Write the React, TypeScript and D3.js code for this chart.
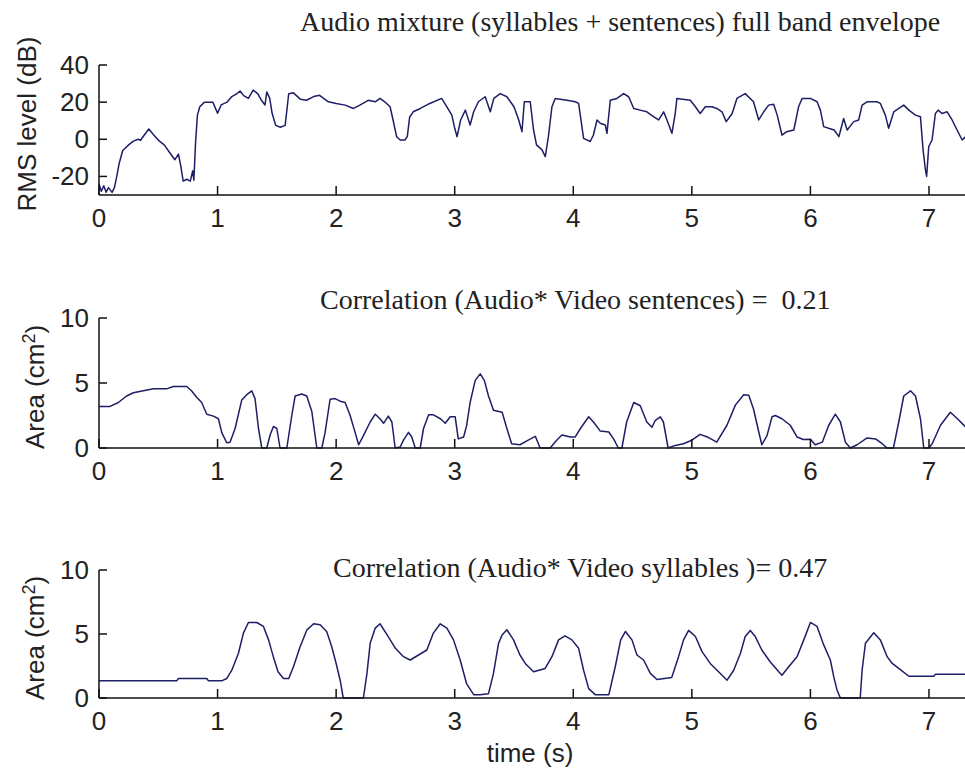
import React from "react";
import * as d3 from "d3";

// time (s), RMS level (dB)
const rmsEnvelope: [number, number][] = [
  [0, -24], [0.02, -28], [0.04, -25], [0.06, -28.5], [0.08, -26], [0.11, -28.6], [0.13, -26],
  [0.15, -20], [0.17, -13], [0.2, -6], [0.25, -3], [0.29, -1], [0.33, 0], [0.35, -0.5],
  [0.39, 3], [0.42, 5.5], [0.46, 2.5], [0.51, -1], [0.55, -3], [0.6, -7.5], [0.64, -11],
  [0.67, -8], [0.69, -14.5], [0.71, -22.5], [0.74, -21.5], [0.77, -22.5], [0.79, -17],
  [0.8, -22], [0.815, -1], [0.83, 13], [0.85, 17.5], [0.89, 20], [0.96, 20], [1.0, 14],
  [1.03, 18.5], [1.08, 20], [1.12, 23], [1.16, 24.5], [1.19, 26], [1.22, 23.5], [1.26, 22],
  [1.3, 26.5], [1.34, 24.5], [1.37, 21], [1.4, 18.5], [1.415, 25.5], [1.44, 22], [1.46, 14],
  [1.49, 7.5], [1.53, 6.5], [1.57, 7.5], [1.6, 24.5], [1.64, 25], [1.7, 21.5], [1.75, 21],
  [1.81, 23], [1.86, 23.7], [1.935, 20.2], [2.0, 19.3], [2.076, 18.4], [2.146, 16.6],
  [2.2, 18.4], [2.27, 21], [2.33, 20.2], [2.37, 22], [2.41, 20.2], [2.455, 17.5], [2.48, 10.4],
  [2.51, 1.4], [2.54, -0.4], [2.58, -0.4], [2.6, 1.4], [2.62, 12], [2.65, 14.8], [2.71, 16.6],
  [2.79, 19.3], [2.89, 22], [2.934, 17.5], [2.976, 13], [3.0, 5.9], [3.02, 1.4], [3.05, 10.4],
  [3.09, 15.7], [3.13, 7.7], [3.16, 14.8], [3.2, 20.2], [3.257, 22.9], [3.3, 14.8], [3.33, 22],
  [3.384, 24.6], [3.44, 22.9], [3.5, 17.5], [3.54, 10.4], [3.567, 4.1], [3.587, 20.2],
  [3.637, 20.2], [3.665, 5], [3.69, -3], [3.736, -5.7], [3.764, -9.3], [3.79, 1.4], [3.82, 17.5],
  [3.848, 22], [3.947, 21], [4.017, 20.2], [4.045, 19.3], [4.087, 0.5], [4.143, -1.2],
  [4.17, 2.3], [4.2, 10.4], [4.228, 8.6], [4.27, 7.7], [4.284, 3.2], [4.312, 21], [4.368, 22],
  [4.425, 24.6], [4.467, 22.9], [4.51, 16.6], [4.565, 15.7], [4.62, 14.8], [4.68, 12.1],
  [4.72, 10.4], [4.762, 14.8], [4.79, 10.4], [4.832, 3.2], [4.86, 13.9], [4.874, 22],
  [4.987, 21], [5.03, 17.5], [5.07, 13.9], [5.114, 17.5], [5.17, 17.5], [5.21, 16.6],
  [5.254, 14.8], [5.29, 9.5], [5.34, 13.9], [5.38, 22], [5.45, 24.6], [5.52, 20.2],
  [5.564, 10.4], [5.606, 14.8], [5.648, 18.4], [5.69, 18.9], [5.72, 13], [5.76, 2.3],
  [5.8, 4.1], [5.86, 5], [5.9, 17.5], [5.93, 22], [6.0, 22], [6.056, 20.2], [6.084, 15.7],
  [6.112, 6.8], [6.154, 5.9], [6.2, 5], [6.24, 1.4], [6.28, 11.2], [6.31, 5], [6.365, 9.5],
  [6.407, 10.4], [6.436, 18.4], [6.478, 20.2], [6.56, 20.2], [6.59, 19.3], [6.632, 13],
  [6.66, 5.9], [6.703, 14.8], [6.745, 16.6], [6.787, 18.4], [6.83, 15.7], [6.886, 13],
  [6.928, 12.1], [6.95, -5.7], [6.97, -16.4], [6.98, -20], [6.998, -3.9], [7.026, -0.4],
  [7.054, 13.9], [7.077, 15.7], [7.11, 13.9], [7.153, 14.8], [7.195, 10.4], [7.237, 5],
  [7.28, -0.4], [7.31, 1.4],
];

// time (s), mouth area (cm^2) - sentences
const sentenceArea: [number, number][] = [
  [0, 3.2], [0.093, 3.2], [0.163, 3.5], [0.233, 4.0], [0.29, 4.25], [0.374, 4.4], [0.46, 4.55],
  [0.57, 4.55], [0.627, 4.73], [0.74, 4.73], [0.78, 4.4], [0.824, 3.9], [0.866, 3.5],
  [0.909, 2.6], [0.965, 2.45], [1.007, 2.25], [1.035, 1.2], [1.077, 0.4], [1.105, 0.45],
  [1.148, 1.5], [1.204, 3.7], [1.246, 4.1], [1.288, 4.4], [1.316, 3.8], [1.345, 1.5],
  [1.373, 0], [1.415, 0], [1.443, 1.0], [1.471, 1.66], [1.5, 1.5], [1.527, 0], [1.584, 0],
  [1.626, 2.5], [1.654, 4.0], [1.71, 4.15], [1.752, 4.0], [1.795, 2.8], [1.837, 0], [1.879, 0],
  [1.907, 1.2], [1.949, 3.75], [1.99, 3.8], [2.034, 3.6], [2.076, 3.5], [2.118, 2.5],
  [2.16, 1.2], [2.19, 0.25], [2.23, 0.95], [2.287, 2.0], [2.33, 2.6], [2.37, 2.25], [2.4, 1.9],
  [2.44, 2.45], [2.47, 2.0], [2.498, 0], [2.54, 0.08], [2.568, 0.6], [2.61, 1.2], [2.638, 0.85],
  [2.667, 0], [2.709, 0], [2.737, 1.5], [2.78, 2.55], [2.82, 2.55], [2.88, 2.25], [2.92, 1.9],
  [2.962, 2.4], [3.004, 2.4], [3.03, 0.7], [3.075, 0.85], [3.1, 1.7], [3.13, 3.5], [3.173, 5.2],
  [3.215, 5.7], [3.25, 5.2], [3.285, 4.0], [3.327, 2.9], [3.4, 2.75], [3.44, 1.5], [3.48, 0.33],
  [3.55, 0.25], [3.62, 0.6], [3.68, 0.9], [3.72, 0], [3.805, 0], [3.86, 0.6], [3.904, 1.0],
  [3.975, 0.85], [4.017, 0.85], [4.06, 1.5], [4.13, 2.4], [4.17, 2.0], [4.228, 1.3], [4.3, 1.23],
  [4.34, 0.7], [4.38, 0], [4.41, 0], [4.45, 2.0], [4.51, 3.5], [4.565, 3.25], [4.62, 2.0],
  [4.664, 1.6], [4.69, 2.1], [4.734, 2.4], [4.76, 2.0], [4.8, 0], [4.86, 0.2], [4.93, 0.33],
  [5.0, 0.6], [5.07, 1.05], [5.13, 0.85], [5.21, 0.45], [5.296, 1.75], [5.367, 3.3],
  [5.437, 4.1], [5.48, 4.05], [5.52, 3.0], [5.564, 1.25], [5.59, 0.25], [5.634, 0.95],
  [5.676, 2.4], [5.704, 2.5], [5.76, 2.25], [5.83, 1.75], [5.887, 0.85], [5.94, 0.65],
  [6.0, 0.67], [6.04, 0.25], [6.1, 0.45], [6.155, 1.75], [6.21, 2.6], [6.253, 2.0],
  [6.295, 0.45], [6.337, 0], [6.394, 0.25], [6.478, 0.77], [6.55, 0.7], [6.605, 0.33],
  [6.647, 0], [6.7, 0], [6.745, 2.0], [6.787, 4.0], [6.844, 4.4], [6.886, 4.0], [6.928, 2.25],
  [6.956, 0], [6.998, 0], [7.027, 0.33], [7.097, 1.75], [7.18, 2.75], [7.24, 2.25], [7.31, 1.6],
];

// time (s), mouth area (cm^2) - syllables
const syllableArea: [number, number][] = [
  [0, 1.34], [0.655, 1.34], [0.67, 1.52], [0.909, 1.52], [0.923, 1.34], [1.035, 1.34],
  [1.077, 1.52], [1.12, 2.17], [1.176, 3.5], [1.218, 5.07], [1.26, 5.9], [1.33, 5.9],
  [1.387, 5.59], [1.43, 4.54], [1.47, 3.23], [1.51, 2.05], [1.556, 1.52], [1.6, 1.52],
  [1.64, 2.44], [1.696, 4.0], [1.752, 5.3], [1.81, 5.8], [1.865, 5.72], [1.92, 5.2],
  [1.963, 4.0], [2.0, 2.7], [2.034, 1.39], [2.06, 0], [2.23, 0], [2.26, 1.92], [2.287, 4.28],
  [2.33, 5.46], [2.37, 5.8], [2.43, 4.93], [2.5, 3.88], [2.568, 3.23], [2.624, 2.97],
  [2.695, 3.36], [2.765, 3.75], [2.82, 5.07], [2.878, 5.8], [2.934, 5.46], [2.99, 4.54],
  [3.046, 2.97], [3.1, 1.13], [3.16, 0.26], [3.215, 0.26], [3.285, 0.34], [3.327, 1.92],
  [3.37, 4.28], [3.4, 4.93], [3.44, 5.33], [3.496, 4.54], [3.55, 3.36], [3.595, 2.7],
  [3.665, 2.05], [3.763, 2.31], [3.82, 3.23], [3.876, 4.54], [3.93, 4.86], [3.988, 4.54],
  [4.045, 3.88], [4.087, 2.17], [4.13, 0.73], [4.185, 0.26], [4.3, 0.26], [4.354, 2.44],
  [4.4, 4.54], [4.44, 5.2], [4.495, 4.54], [4.537, 3.36], [4.593, 2.97], [4.65, 1.92],
  [4.706, 1.44], [4.83, 1.6], [4.888, 3.23], [4.93, 4.54], [4.973, 5.28], [5.03, 4.8],
  [5.086, 3.62], [5.155, 2.7], [5.24, 1.92], [5.297, 1.39], [5.353, 2.17], [5.41, 3.5],
  [5.45, 4.8], [5.493, 5.28], [5.535, 4.8], [5.59, 3.75], [5.66, 2.83], [5.733, 2.05],
  [5.76, 1.78], [5.817, 2.44], [5.887, 3.23], [5.944, 4.54], [6.0, 5.9], [6.056, 5.59],
  [6.112, 4.15], [6.168, 2.97], [6.197, 1.65], [6.225, 0.6], [6.253, 0], [6.42, 0],
  [6.436, 2.17], [6.464, 4.28], [6.534, 5.1], [6.59, 4.54], [6.647, 3.23], [6.69, 2.7],
  [6.745, 2.31], [6.83, 1.7], [7.04, 1.7], [7.055, 1.86], [7.31, 1.86],
];

const timeTicks = [0, 1, 2, 3, 4, 5, 6, 7];
const rmsTicks = [-20, 0, 20, 40];
const areaTicks = [0, 5, 10];
const rmsDomain: [number, number] = [-30, 40];
const areaDomain: [number, number] = [0, 10];
const timeDomain: [number, number] = [0, 7.32];

const titleTexts = [
  "Audio mixture (syllables + sentences) full band envelope",
  "Correlation (Audio* Video sentences) =\u00a0 0.21",
  "Correlation (Audio* Video syllables )= 0.47",
];
const yLabelMain = ["RMS level (dB)", "Area (cm", "Area (cm"];
const xLabel = "time (s)";

const W = 965;
const H = 770;
const AXIS_X = 99;
const SANS = "'Liberation Sans', Arial, sans-serif";
const SERIF = "'Liberation Serif', 'Times New Roman', serif";
const LINE = "#1e1e66";

type Panel = {
  data: [number, number][];
  domain: [number, number];
  ticks: number[];
  top: number;
  bottom: number;
  title: string;
  titleX: number;
  titleY: number;
  yLabel: string;
  sup: boolean;
  yLabelX: number;
  yLabelY: number;
};

const panels: Panel[] = [
  { data: rmsEnvelope, domain: rmsDomain, ticks: rmsTicks, top: 65, bottom: 195,
    title: titleTexts[0], titleX: 300, titleY: 31, yLabel: yLabelMain[0], sup: false, yLabelX: 36, yLabelY: 124 },
  { data: sentenceArea, domain: areaDomain, ticks: areaTicks, top: 318, bottom: 448,
    title: titleTexts[1], titleX: 320, titleY: 309, yLabel: yLabelMain[1], sup: true, yLabelX: 44, yLabelY: 387 },
  { data: syllableArea, domain: areaDomain, ticks: areaTicks, top: 570, bottom: 698,
    title: titleTexts[2], titleX: 333, titleY: 577, yLabel: yLabelMain[2], sup: true, yLabelX: 44, yLabelY: 638 },
];

function PanelView({ p, x }: { p: Panel; x: d3.ScaleLinear<number, number> }) {
  const y = d3.scaleLinear().domain(p.domain).range([p.bottom, p.top]);
  const line = d3.line<[number, number]>().x((d) => x(d[0])).y((d) => y(d[1]));
  return (
    <g>
      <text x={p.titleX} y={p.titleY} fontFamily={SERIF} fontSize={28} fill="#222">
        {p.title}
      </text>
      <path d={line(p.data) || ""} fill="none" stroke={LINE} strokeWidth={1.5} strokeLinejoin="round" />
      <line x1={AXIS_X} x2={AXIS_X} y1={y(p.domain[0])} y2={y(p.domain[1])} stroke="#111" strokeWidth={1.5} />
      <line x1={AXIS_X} x2={W} y1={p.bottom} y2={p.bottom} stroke="#111" strokeWidth={1.5} />
      {timeTicks.map((t) => (
        <g key={"xt" + t}>
          <line x1={x(t)} x2={x(t)} y1={p.bottom} y2={p.bottom - 9} stroke="#111" strokeWidth={1.5} />
          <text x={x(t)} y={p.bottom + 32} textAnchor="middle" fontFamily={SANS} fontSize={26} fill="#222">
            {t}
          </text>
        </g>
      ))}
      {p.ticks.map((v) => (
        <g key={"yt" + v}>
          <line x1={AXIS_X} x2={AXIS_X + 8} y1={y(v)} y2={y(v)} stroke="#111" strokeWidth={1.5} />
          <text x={89} y={y(v) + 9} textAnchor="end" fontFamily={SANS} fontSize={26} fill="#222">
            {v}
          </text>
        </g>
      ))}
      <text
        transform={`translate(${p.yLabelX},${p.yLabelY}) rotate(-90)`}
        textAnchor="middle"
        fontFamily={SANS}
        fontSize={26}
        fill="#222"
      >
        {p.yLabel}
        {p.sup ? (
          <>
            <tspan fontSize={18} dy={-9}>2</tspan>
            <tspan dy={9}>)</tspan>
          </>
        ) : null}
      </text>
    </g>
  );
}

export default function App() {
  const x = d3.scaleLinear().domain(timeDomain).range([AXIS_X, AXIS_X + 118.57 * timeDomain[1]]);
  return (
    <svg
      width={W}
      height={H}
      viewBox={`0 0 ${W} ${H}`}
      style={{ position: "absolute", left: 0, top: 0, background: "#fff", display: "block" }}
    >
      <rect x={0} y={0} width={W} height={H} fill="#fff" />
      {panels.map((p, i) => (
        <PanelView key={i} p={p} x={x} />
      ))}
      <text x={530} y={762} textAnchor="middle" fontFamily={SANS} fontSize={26} fill="#222">
        {xLabel}
      </text>
    </svg>
  );
}
